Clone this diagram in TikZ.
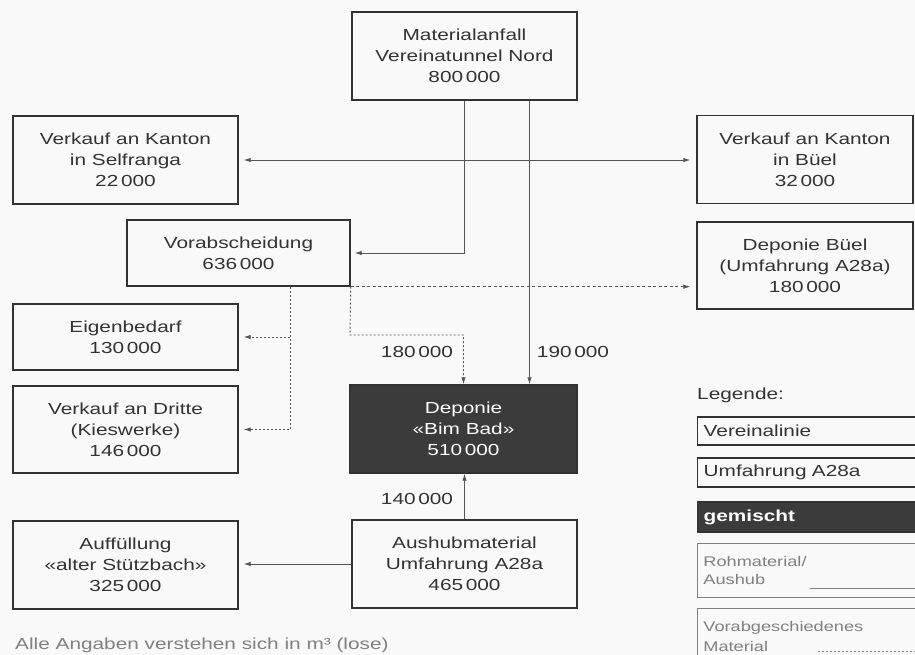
\documentclass[tikz,border=0pt]{standalone}
\usepackage{fontspec}
\setmainfont{Liberation Sans}[FakeStretch=1.3]
\usetikzlibrary{arrows.meta}
\definecolor{ink}{HTML}{333333}
\definecolor{bg}{HTML}{F8F9F8}
\definecolor{darkbox}{HTML}{3B3B3B}
\definecolor{lgray}{HTML}{808080}
\definecolor{lineink}{HTML}{555555}
\begin{document}
\begin{tikzpicture}[x=1pt,y=-1pt,
  box/.style={draw=ink, line width=1.4pt, text=ink, align=center, inner sep=0pt,
    minimum width=225pt, minimum height=88pt, font=\fontsize{16}{21}\selectfont},
  lab/.style={text=ink, inner sep=0pt, font=\fontsize{16}{21}\selectfont},
  conn/.style={draw=lineink, line width=0.9pt},
  tip/.style={-{Latex[length=7pt,width=4.5pt]}},
  dtip/.style={{Latex[length=7pt,width=4.5pt]}-{Latex[length=7pt,width=4.5pt]}},
  dotl/.style={conn, dash pattern=on 2pt off 2pt},
  dashl/.style={conn, dash pattern=on 3pt off 2.5pt},
  lbox/.style={draw=ink, line width=1.4pt, text=ink, anchor=west, align=left,
    text width=230pt, inner xsep=6pt, inner ysep=0pt, font=\fontsize{16}{21}\selectfont},
  gbox/.style={draw=lgray, line width=0.8pt, text=lgray, anchor=north west, align=left,
    text width=230pt, inner xsep=6pt, inner ysep=0pt}
]
\useasboundingbox (0,0) rectangle (915,655);
\fill[bg] (0,0) rectangle (915,655);
\clip (0,0) rectangle (915,655);

% boxes
\node[box] (mat) at (464.5,56) {Materialanfall\\Vereinatunnel Nord\\800\,000};
\node[box] (self) at (125.5,160) {Verkauf an Kanton\\in Selfranga\\22\,000};
\node[box, minimum width=216pt] (buel) at (805,159.5) {Verkauf an Kanton\\in Büel\\32\,000};
\node[box, minimum width=223pt, minimum height=66pt] (vor) at (238.5,253) {Vorabscheidung\\636\,000};
\node[box, minimum width=216pt, minimum height=87pt] (depb) at (805,265.5) {Deponie Büel\\(Umfahrung A28a)\\180\,000};
\node[box, minimum height=66pt] (eig) at (125.5,337) {Eigenbedarf\\130\,000};
\node[box, minimum height=87pt] (dri) at (125.5,429.5) {Verkauf an Dritte\\(Kieswerke)\\146\,000};
\node[box, fill=darkbox, text=white, minimum width=227pt] (bim) at (463.5,429) {Deponie\\«Bim Bad»\\510\,000};
\node[box] (aus) at (464.5,564) {Aushubmaterial\\Umfahrung A28a\\465\,000};
\node[box] (auf) at (125.5,565) {Auffüllung\\«alter Stützbach»\\325\,000};

% connectors
\draw[conn, tip, shorten >=4pt] (mat.south) |- (vor.east);
\draw[conn, tip] ([xshift=65pt]mat.south) -- ([xshift=65pt]mat.south |- bim.north);
\draw[conn, dtip, shorten <=5pt, shorten >=6pt] (self.east) -- (self.east -| buel.west);
\draw[dashl, tip, shorten >=6pt] (vor.south east) -- (vor.south east -| depb.west);
\coordinate (k1) at (350,335);
\draw[dotl, tip] (vor.south east) -- (k1) -| (bim.north);
\coordinate (v1) at ([xshift=51.5pt]vor.south);
\draw[dotl, tip, shorten >=5pt] (v1) |- (dri.east);
\draw[dotl, tip, shorten >=5pt] (v1 |- eig.east) -- (eig.east);
\draw[conn, tip] (aus.north) -- (aus.north |- bim.south);
\draw[conn, tip, shorten >=5pt] (aus.west) -- (aus.west -| auf.east);

% flow labels
\node[lab] (l180) at (417,352) {180\,000};
\node[lab] (l190) at (573,352) {190\,000};
\node[lab] (l140) at (417,499) {140\,000};

% legend
\node[lab, anchor=west] (leg) at (697,395) {Legende:};
\node[lbox, minimum height=28pt] (lv) at (697,431) {Vereinalinie};
\node[lbox, minimum height=29pt] (lu) at (697,472.5) {Umfahrung A28a};
\node[lbox, minimum height=30pt, fill=darkbox, text=white, font=\fontsize{16}{21}\selectfont\bfseries] (lg) at (697,517) {gemischt};
\node[gbox, minimum height=54pt, font=\fontsize{14}{18}\selectfont] (lr) at (697,543) {Rohmaterial/\\Aushub};
\draw[lgray, line width=1pt] ([shift={(113pt,9pt)}]lr.south west) -- ++(130pt,0pt);
\node[gbox, minimum height=56pt, font=\fontsize{14}{20}\selectfont] (lm) at (697,608) {Vorabgeschiedenes\\Material};
\draw[lgray, line width=1pt, dash pattern=on 2pt off 2pt] ([shift={(121pt,-43pt)}]lm.north west) -- ++(130pt,0pt);

% footnote
\node[anchor=west, inner sep=0pt, text=lgray, font=\fontsize{16}{21}\selectfont] (note) at (15,645) {Alle Angaben verstehen sich in m³ (lose)};
\end{tikzpicture}
\end{document}
